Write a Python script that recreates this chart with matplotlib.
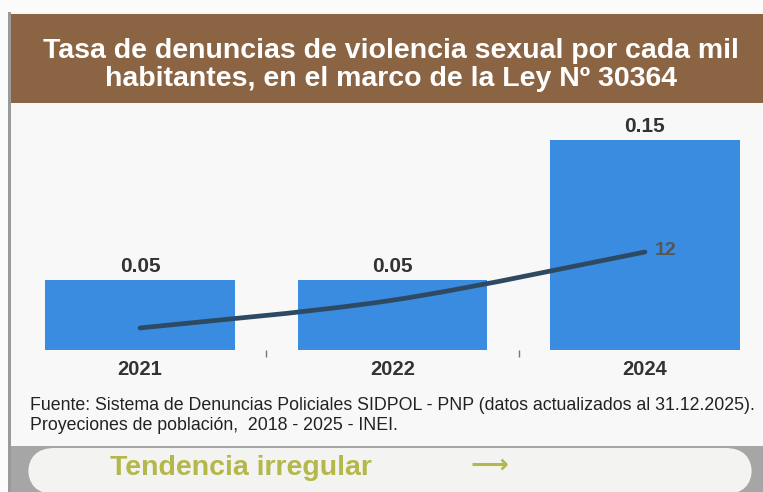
import matplotlib
matplotlib.use('Agg')
import matplotlib.pyplot as plt
from matplotlib.patches import Rectangle, FancyBboxPatch
from matplotlib.path import Path
from matplotlib.patches import PathPatch

# data
years = ['2021', '2022', '2024']
tasa = [0.05, 0.05, 0.15]
tasa_labels = ['0.05', '0.05', '0.15']
linea = [2.7, 6.1, 12]
linea_label = '12'

W, H = 763, 492
plt.rcParams['font.family'] = ['Liberation Sans', 'DejaVu Sans']

fig = plt.figure(figsize=(W / 100, H / 100), dpi=100)
fig.patch.set_facecolor('#fbfbfb')


def fx(x):
    return x / W


def fy(y):
    return 1 - y / H


def box(x0, y0, x1, y1, **kw):
    fig.patches.append(Rectangle((fx(x0), fy(y1)), fx(x1 - x0), (y1 - y0) / H,
                                 transform=fig.transFigure, **kw))


# panels
box(8, 12, 763, 446, facecolor='#f8f8f8', edgecolor='none', zorder=0)
box(8, 12, 11, 492, facecolor='#9a9a9a', edgecolor='none', zorder=1)
box(11, 14, 763, 103, facecolor='#8b6444', edgecolor='none', zorder=1)
box(11, 446, 763, 492, facecolor='#a6a6a6', edgecolor='none', zorder=1)
fig.patches.append(FancyBboxPatch((fx(28), fy(494)), fx(724), 46 / H,
                                  boxstyle='round,pad=0,rounding_size=0.035',
                                  transform=fig.transFigure, facecolor='#f3f3f1',
                                  edgecolor='none', zorder=2, mutation_aspect=W / H))

fig.text(fx(391), fy(51), 'Tasa de denuncias de violencia sexual por cada mil',
         color='white', fontsize=20.5, fontweight='bold', ha='center', va='center')
fig.text(fx(391), fy(79), 'habitantes, en el marco de la Ley Nº 30364',
         color='white', fontsize=20.5, fontweight='bold', ha='center', va='center')

# chart
ax_l, ax_r, ax_t, ax_b = 30, 755, 110, 350
ax = fig.add_axes([fx(ax_l), fy(ax_b), fx(ax_r - ax_l), (ax_b - ax_t) / H])
ax.set_zorder(3)
ax.set_facecolor('none')
x = list(range(len(years)))
ax.bar(x, tasa, width=0.75, color='#3a8ce0', zorder=2)
ax.set_xlim(-0.436, 2.436)
ax.set_ylim(0, 240 / 1400)
for xi, v, lab in zip(x, tasa, tasa_labels):
    ax.text(xi, v + 0.003, lab, ha='center', va='bottom', fontsize=15,
            fontweight='bold', color='#333333')
for s in ax.spines.values():
    s.set_visible(False)
ax.set_yticks([])
ax.set_xticks(x)
ax.set_xticklabels(years, fontsize=14.5, fontweight='bold', color='#333333')
ax.tick_params(axis='x', length=0, pad=7)
ax.set_xticks([0.5, 1.5], minor=True)
ax.tick_params(axis='x', which='minor', length=5, width=1, color='#777777',
               direction='out', pad=0)

ax2 = ax.twinx()
ax2.set_zorder(4)
ax2.set_ylim(0, 240 / 98 * 12)
ax2.set_axis_off()
# smooth curve through the points
verts = [(x[0], linea[0])]
codes = [Path.MOVETO]
for i in range(len(x) - 1):
    p0 = (x[i - 1], linea[i - 1]) if i > 0 else (x[i], linea[i])
    p1 = (x[i], linea[i])
    p2 = (x[i + 1], linea[i + 1])
    p3 = (x[i + 2], linea[i + 2]) if i + 2 < len(x) else p2
    c1 = (p1[0] + (p2[0] - p0[0]) / 6, p1[1] + (p2[1] - p0[1]) / 6)
    c2 = (p2[0] - (p3[0] - p1[0]) / 6, p2[1] - (p3[1] - p1[1]) / 6)
    verts += [c1, c2, p2]
    codes += [Path.CURVE4] * 3
ax2.add_patch(PathPatch(Path(verts, codes), facecolor='none',
                        edgecolor='#2e4a63', lw=3.4, capstyle='round', zorder=3))
ax2.text(x[-1] + 0.04, linea[-1] + 0.2, linea_label, ha='left', va='center',
         fontsize=14, fontweight='bold', color='#555555')

fig.text(fx(30), fy(405), 'Fuente: Sistema de Denuncias Policiales SIDPOL - PNP '
         '(datos actualizados al 31.12.2025).', fontsize=12.8, color='#222222',
         ha='left', va='center')
fig.text(fx(30), fy(426), 'Proyeciones de población,  2018 - 2025 - INEI.',
         fontsize=12.8, color='#222222', ha='left', va='center')

fig.text(fx(110), fy(468), 'Tendencia irregular', fontsize=20.5, fontweight='bold',
         color='#b4b84a', ha='left', va='center', zorder=5)
fig.text(fx(470), fy(466), '⟶', fontsize=19, fontweight='bold',
         color='#b4b84a', ha='left', va='center', zorder=5,
         family=['DejaVu Sans'])

fig.savefig('out.png', dpi=100, facecolor=fig.get_facecolor())
